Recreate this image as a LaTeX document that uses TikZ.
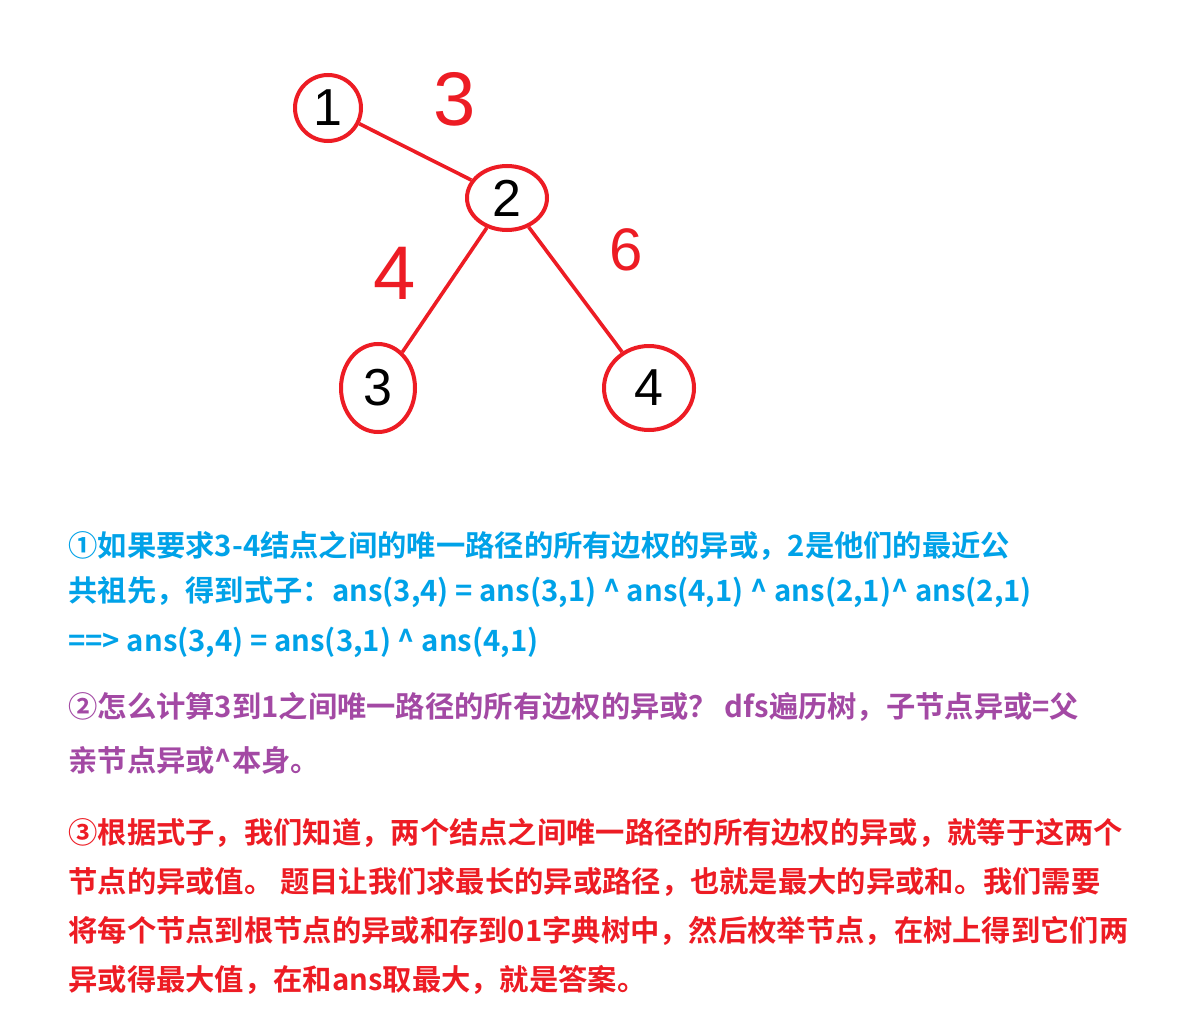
\documentclass[tikz,border=0pt]{standalone}
\usepackage{fontspec}
\setmainfont{Liberation Sans}
\newfontfamily\cjk{Noto Sans CJK SC}[BoldFont={* Bold}]
\usetikzlibrary{shapes.geometric}
\definecolor{paintred}{HTML}{ED1C24}
\definecolor{paintblue}{HTML}{00A2E8}
\definecolor{paintpurple}{HTML}{A349A4}
\begin{document}
\begin{tikzpicture}[x=0.5pt, y=-0.5pt,
   vertex/.style={draw=paintred, line width=2pt, ellipse, inner sep=0pt,
                  font=\fontsize{26}{26}\selectfont},
   tree edge/.style={draw=paintred, line width=1.8pt},
   weight/.style={text=paintred, inner sep=0pt, font=\fontsize{38}{38}\selectfont},
   note/.style={anchor=base west, inner sep=0pt,
                font=\cjk\bfseries\fontsize{14.65}{25}\selectfont}]

\useasboundingbox[fill=white] (0,0) rectangle (1186,1027);

% the tree
\node[vertex, minimum width=33pt, minimum height=33pt] (v1) at (328,108) {1};
\node[vertex, minimum width=40pt, minimum height=32pt] (v2) at (507,198) {2};
\node[vertex, minimum width=37pt, minimum height=44pt] (v3) at (378,388) {3};
\node[vertex, minimum width=45pt, minimum height=42pt] (v4) at (649,388) {4};

\draw[tree edge] (v1) -- (v2);
\draw[tree edge] (v2) -- (v3);
\draw[tree edge] (v2) -- (v4);

\node[weight] (w12) at (455,99) {3};
\node[weight] (w23) at (395,273) {4};
\node[weight, font=\fontsize{30}{30}\selectfont] (w24) at (626,250) {6};

% notes
\begin{scope}[every node/.append style={text=paintblue}]
\node[note] (p1a) at (68,556) {①如果要求3-4结点之间的唯一路径的所有边权的异或，2是他们的最近公};
\node[note] (p1b) at (68,601) {共祖先，得到式子：ans(3,4) = ans(3,1) \textasciicircum{} ans(4,1) \textasciicircum{} ans(2,1)\textasciicircum{} ans(2,1)};
\node[note] (p1c) at (68,651) {==> ans(3,4) = ans(3,1) \textasciicircum{} ans(4,1)};
\end{scope}

\begin{scope}[every node/.append style={text=paintpurple}]
\node[note] (p2a) at (68,717) {②怎么计算3到1之间唯一路径的所有边权的异或？ dfs遍历树，子节点异或=父};
\node[note] (p2b) at (68,771) {亲节点异或\textasciicircum{}本身。};
\end{scope}

\begin{scope}[every node/.append style={text=paintred}]
\node[note] (p3a) at (68,843) {③根据式子，我们知道，两个结点之间唯一路径的所有边权的异或，就等于这两个};
\node[note] (p3b) at (68,892) {节点的异或值。 题目让我们求最长的异或路径，也就是最大的异或和。我们需要};
\node[note] (p3c) at (68,941) {将每个节点到根节点的异或和存到01字典树中，然后枚举节点，在树上得到它们两};
\node[note] (p3d) at (68,990) {异或得最大值，在和ans取最大，就是答案。};
\end{scope}

\end{tikzpicture}
\end{document}
